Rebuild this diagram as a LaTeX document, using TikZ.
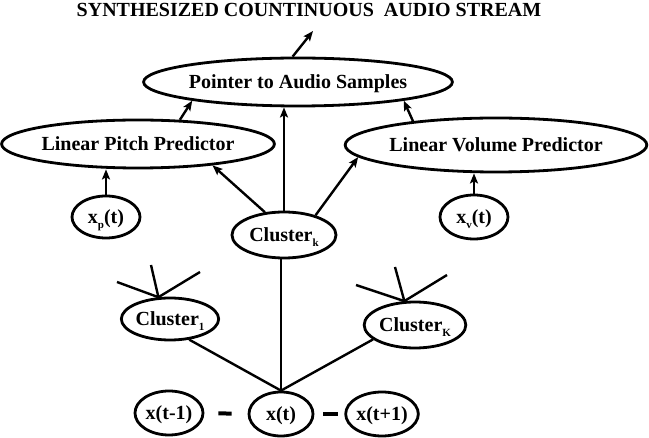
\documentclass[tikz,border=0pt]{standalone}
\usepackage{fontspec}
\setmainfont{Liberation Serif}
\usetikzlibrary{shapes.geometric,arrows.meta,calc}
\newcommand{\mysub}[1]{\raisebox{-0.5ex}{\fontsize{11}{11}\selectfont #1}}
\begin{document}
\begin{tikzpicture}[x=1pt,y=-1pt,
  ell/.style={draw,ellipse,line width=2.8pt,inner sep=0pt,
    font=\fontsize{20}{22}\selectfont\bfseries,text height=13pt,text depth=0pt},
  conn/.style={line width=2.4pt},
  arr/.style={line width=2.4pt,-{Stealth[length=10pt,width=8pt,inset=2pt]}},
  seqdash/.style={line width=4pt},
  ttl/.style={font=\fontsize{20}{22}\selectfont\bfseries,inner sep=0pt}]
\useasboundingbox (0,0) rectangle (649,438);
\node[ttl] (title) at (309,10) {SYNTHESIZED COUNTINUOUS\ \ AUDIO STREAM};
\node[ell,minimum width=282pt,minimum height=48pt] (ptr) at (298,82) {Pointer to Audio Samples};
\node[ell,minimum width=250pt,minimum height=48pt] (lpp) at (138,144) {Linear Pitch Predictor};
\node[ell,minimum width=260pt,minimum height=54pt] (lvp) at (496,145) {Linear Volume Predictor};
\node[ell,minimum width=68pt,minimum height=42pt] (xp) at (106,217) {x\mysub{p}(t)};
\node[ell,minimum width=68pt,minimum height=44pt] (xv) at (474,217) {x\mysub{v}(t)};
\node[ell,minimum width=104pt,minimum height=46pt] (ck) at (284,235) {Cluster\mysub{k}};
\node[ell,minimum width=86pt,minimum height=42pt] (c1) at (170,319) {Cluster\mysub{1}};
\node[ell,minimum width=92pt,minimum height=46pt] (cK) at (415,325) {Cluster\mysub{K}};
\node[ell,minimum width=68pt,minimum height=44pt] (xtm) at (169,413) {x(t-1)};
\node[ell,minimum width=64pt,minimum height=44pt] (xt) at (281,414) {x(t)};
\node[ell,minimum width=70pt,minimum height=44pt] (xtp) at (382,414) {x(t+1)};
\coordinate (out) at (313,31);
\coordinate (f1a) at (117,282);
\coordinate (f1b) at (151,265);
\coordinate (f1c) at (200,272);
\coordinate (fKa) at (356,285);
\coordinate (fKb) at (395,267);
\coordinate (fKc) at (447,275);
% arrows
\draw[arr] (ptr.102) -- (out);
\draw[arr] (lpp.30) -- (ptr.190);
\draw[arr] (lvp.164) -- (ptr.350);
\draw[arr] (ck.north) -- (ck.north |- ptr.south);
\draw[arr] (ck.130) -- (lpp.344);
\draw[arr] (ck.32) -- (lvp.185);
\draw[arr] (xp.north) -- (xp.north |- lpp.south);
\draw[arr] (xv.north) -- (xv.north |- lvp.south);
% undirected links
\draw[conn] (xt.north) -- (xt.north |- ck.south);
\draw[conn] (c1.313) -- (xt.north);
\draw[conn] (cK.199) -- (xt.north);
\draw[conn] (f1a) -- (c1.118) -- (f1b);
\draw[conn] (f1c) -- (c1.118);
\draw[conn] (fKa) -- (cK.114) -- (fKb);
\draw[conn] (fKc) -- (cK.114);
% sequence dashes
\draw[seqdash,shorten <=14pt,shorten >=16pt] (xtm.east) -- (xt.west);
\draw[seqdash,shorten <=9pt,shorten >=6pt] (xt.east) -- (xtp.west);
\end{tikzpicture}
\end{document}
